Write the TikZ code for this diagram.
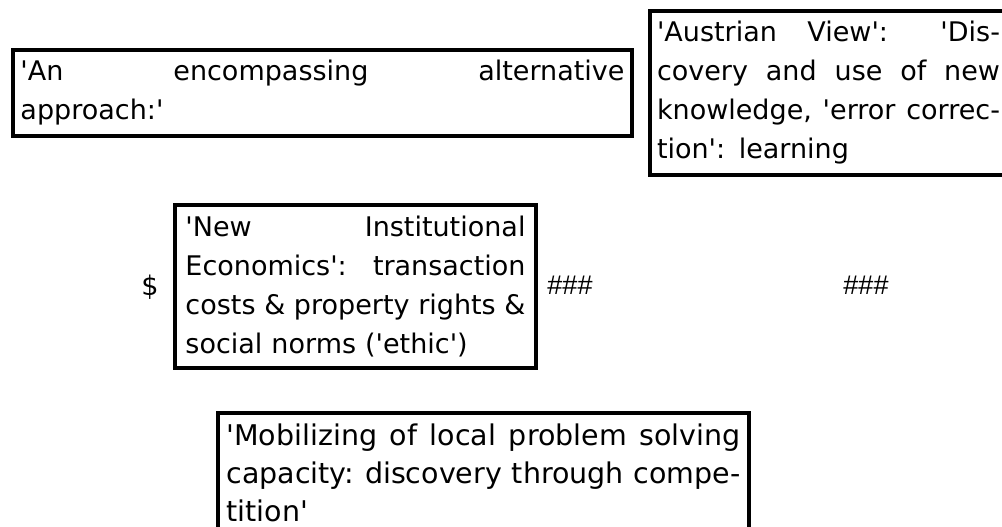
\documentclass[tikz,border=0pt]{standalone}
\usepackage{fontspec}
\setmainfont{DejaVu Sans}[Ligatures=TeXOff]
\newfontfamily\hashfont{Liberation Sans}
\newcommand\jline[2]{\leavevmode\hbox to #1{\frenchspacing\spaceskip=\fontdimen2\font plus 1fil\relax #2}}
\newcommand\cgap{\hskip 0pt plus 1fil\relax}
\begin{document}
\begin{tikzpicture}[x=1bp,y=-1bp,
  tbox/.style={draw, line width=4bp, inner sep=0pt, align=left, font=\fontsize{27bp}{39bp}\selectfont},
  sym/.style={inner sep=0pt, font=\fontsize{27bp}{39bp}\selectfont},
  hash/.style={inner sep=0pt, font=\hashfont\fontsize{27bp}{39bp}\selectfont}]
\useasboundingbox (0,0) rectangle (1002,527);
\clip (0,0) rectangle (1002,527);
\fill[white] (0,0) rectangle (1002,527);
\node[tbox, text width=604bp, minimum width=619bp, minimum height=86bp] (b1) at (322.5,93)
  {\jline{604bp}{'An encompassing alternative}\\approach:'};
\node[tbox, text width=343bp, minimum width=357bp, minimum height=164bp] (b2) at (828.5,93)
  {\jline{343bp}{'Austrian View':\cgap{} 'Dis-}\\\jline{343bp}{covery and use of new}\\\jline{343bp}{knowledge, 'error correc-}\\tion': learning};
\node[tbox, text width=340bp, minimum width=361bp, minimum height=163bp] (b3) at (355.5,286.5)
  {\jline{340bp}{'New Institutional}\\\jline{340bp}{Economics': transaction}\\\jline{340bp}{costs \& property rights \&}\\social norms ('ethic')};
\node[sym] (dollar) at (150,287) {\$};
\node[hash] (h1) at (570,285) {\#\#\#};
\node[hash] (h2) at (866,285) {\#\#\#};
\node[tbox, font=\fontsize{28.5bp}{38bp}\selectfont, text width=514bp, minimum width=531bp, minimum height=119bp] (b4) at (483.5,472.5)
  {\jline{514bp}{'Mobilizing of local problem solving}\\\jline{514bp}{capacity:\cgap{} discovery through compe-}\\tition'};
\end{tikzpicture}
\end{document}
